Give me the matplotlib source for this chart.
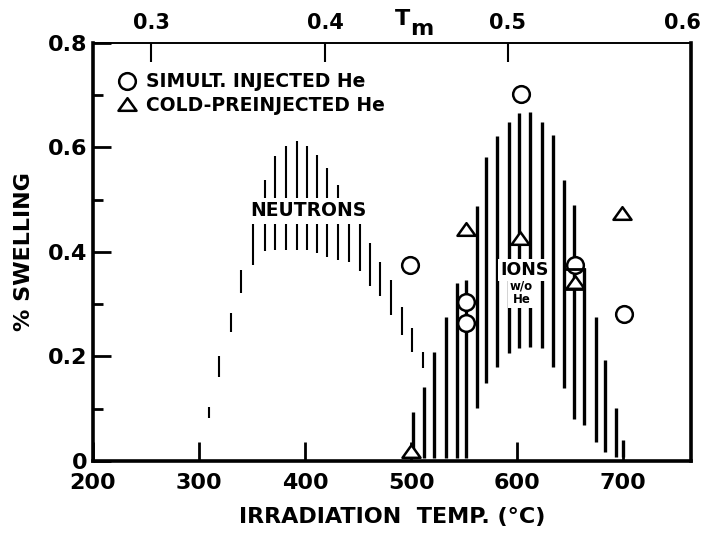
import numpy as np
import matplotlib.pyplot as plt
import matplotlib.transforms as mtransforms
from matplotlib.path import Path

plt.rcParams['font.family'] = 'DejaVu Sans'
plt.rcParams['font.weight'] = 'bold'
plt.rcParams['axes.labelweight'] = 'bold'

# neutron swelling band, drawn as thin vertical lines (temp C, low, high)
neutron_T = [309, 319, 330, 340, 351, 362, 372, 382, 392, 402, 411,
             421, 431, 441, 452, 461, 471, 481, 491, 501, 511]
neutron_lo = [0.082, 0.161, 0.247, 0.321, 0.375, 0.401, 0.404, 0.404, 0.403, 0.404, 0.398,
              0.391, 0.385, 0.380, 0.364, 0.334, 0.315, 0.279, 0.241, 0.209, 0.177]
neutron_hi = [0.104, 0.200, 0.283, 0.366, 0.470, 0.538, 0.584, 0.603, 0.612, 0.603, 0.586,
              0.561, 0.528, 0.490, 0.470, 0.417, 0.381, 0.346, 0.295, 0.254, 0.209]

# ions w/o He band, thick vertical lines
ion_T = [502, 512, 522, 533, 543, 552, 562, 571, 581, 592, 602,
         612, 623, 634, 644, 654, 663, 674, 683, 693, 700]
ion_lo = [0.005, 0.005, 0.005, 0.005, 0.005, 0.005, 0.101, 0.149, 0.180, 0.206, 0.216,
          0.219, 0.216, 0.180, 0.139, 0.080, 0.069, 0.037, 0.018, 0.008, 0.008]
ion_hi = [0.094, 0.142, 0.209, 0.276, 0.340, 0.346, 0.487, 0.582, 0.621, 0.649, 0.665,
          0.667, 0.649, 0.624, 0.537, 0.490, 0.369, 0.276, 0.193, 0.101, 0.040]

# data points
simult_T = [499, 552, 552, 604, 655, 701]
simult_y = [0.375, 0.305, 0.264, 0.702, 0.375, 0.281]
cold_T = [500, 552, 603, 655, 699]
cold_y = [0.020, 0.443, 0.426, 0.343, 0.474]
box_T = [654]
box_y = [0.348]

x_ticks = [200, 300, 400, 500, 600, 700]
y_ticks = [0, 0.2, 0.4, 0.6, 0.8]
y_labels = ['0', '0.2', '0.4', '0.6', '0.8']
y_minor = [0.1, 0.3, 0.5, 0.7]
tm_ticks_T = [255, 419, 591, 764]
tm_labels = ['0.3', '0.4', '0.5', '0.6']

tri = Path([(-1, -0.7), (1, -0.7), (0, 0.7), (-1, -0.7)],
           [Path.MOVETO, Path.LINETO, Path.LINETO, Path.CLOSEPOLY])

fig = plt.figure(figsize=(7.07, 5.36), dpi=100)
ax = fig.add_axes([0.1315, 0.140, 0.846, 0.780])

ax.vlines(neutron_T, neutron_lo, neutron_hi, colors='black', lw=1.5, zorder=1)
ax.vlines(ion_T, ion_lo, ion_hi, colors='black', lw=2.4, zorder=1)

white = dict(facecolor='white', edgecolor='none', pad=2.5)
ax.text(403, 0.479, 'NEUTRONS', ha='center', va='center', fontsize=13.5,
        bbox=white, zorder=3)
ax.text(607, 0.365, 'IONS', ha='center', va='center', fontsize=12.5,
        bbox=dict(facecolor='white', edgecolor='none', pad=1.5), zorder=3)
ax.text(604, 0.322, 'w/o\nHe', ha='center', va='center', fontsize=8.5,
        linespacing=1.0,
        bbox=dict(facecolor='white', edgecolor='none', pad=1.5), zorder=3)

ax.plot(simult_T, simult_y, 'o', ls='none', ms=12, mfc='white', mec='black',
        mew=1.8, zorder=4, label='SIMULT. INJECTED He')
ax.plot(cold_T, cold_y, marker=tri, ls='none', ms=13, mfc='white', mec='black',
        mew=1.8, zorder=5, label='COLD-PREINJECTED He')
ax.plot(box_T, box_y, 's', ls='none', ms=14, mfc='none', mec='black',
        mew=2.0, zorder=4)

ax.set_xlim(200, 764)
ax.set_ylim(0, 0.8)

ax.set_xticks(x_ticks)
ax.set_yticks(y_ticks, y_labels)
ax.set_yticks(y_minor, minor=True)
ax.tick_params(axis='x', direction='in', length=14, width=2, pad=9, labelsize=16)
ax.tick_params(axis='y', direction='in', length=13, width=2, pad=4, labelsize=16)
ax.tick_params(axis='y', which='minor', direction='in', length=7, width=2)

for side in ['left', 'bottom', 'right']:
    ax.spines[side].set_linewidth(2.6)
ax.spines['top'].set_linewidth(1.2)

sec = ax.secondary_xaxis('top')
sec.set_xticks(tm_ticks_T, tm_labels)
sec.tick_params(direction='in', length=14, width=1.5, pad=7, labelsize=15)
sec.spines['top'].set_linewidth(1.2)
# nudge the last top label so it stays inside the figure
last = sec.xaxis.get_majorticklabels()[-1]
last.set_transform(last.get_transform() +
                   mtransforms.ScaledTranslation(-6 / 72, 0, fig.dpi_scale_trans))

ax.annotate('T', xy=(492, 1), xycoords=('data', 'axes fraction'),
            xytext=(0, 13), textcoords='offset points', ha='center',
            va='baseline', fontsize=16)
ax.annotate('m', xy=(510, 1), xycoords=('data', 'axes fraction'),
            xytext=(0, 5.5), textcoords='offset points', ha='center',
            va='baseline', fontsize=16)

ax.set_xlabel('IRRADIATION  TEMP. (\u00b0C)', fontsize=16, labelpad=10)
ax.set_ylabel('% SWELLING', fontsize=16, labelpad=10)

ax.legend(loc='upper left', bbox_to_anchor=(0.043, 0.93), frameon=False,
          prop={'size': 13.5, 'weight': 'bold'}, handlelength=0.9,
          handletextpad=0.55, labelspacing=0.25, borderpad=0, borderaxespad=0)

fig.savefig('out.png', dpi=100)
